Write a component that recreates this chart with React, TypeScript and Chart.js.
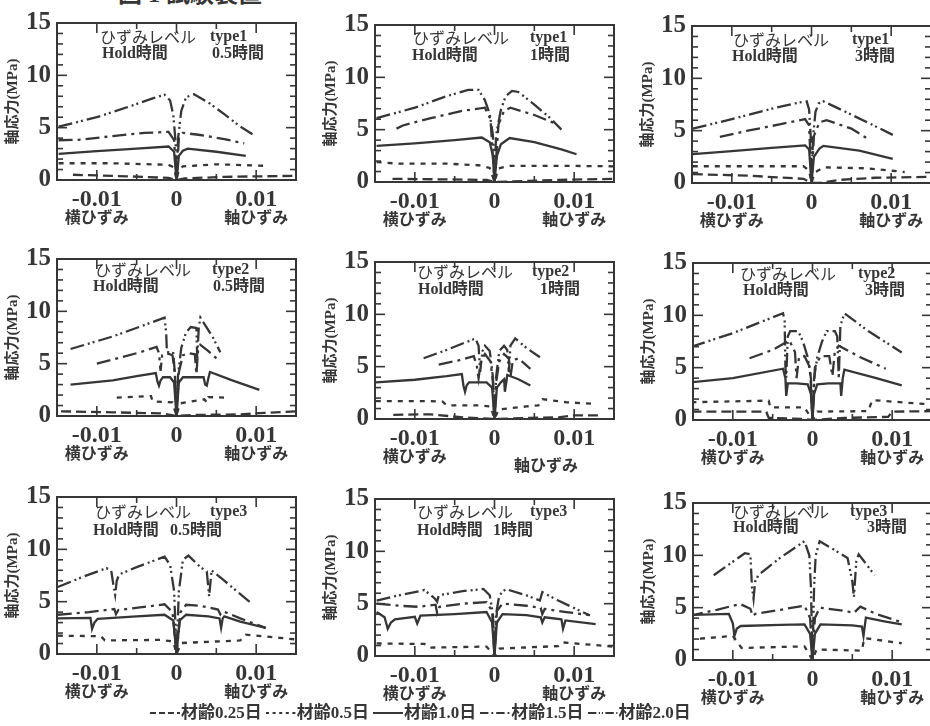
import React, { useEffect, useRef } from "react";
import { Chart, registerables } from "chart.js";

Chart.register(...registerables);

// ---------- labels ----------
const figureTitle = "図 1 試験装置";
const ages = ["材齢0.25日", "材齢0.5日", "材齢1.0日", "材齢1.5日", "材齢2.0日"];
const levelLabel = "ひずみレベル";
const holdLabel = "Hold時間";
const yTitle = "軸応力(MPa)";
const lateralLabel = "横ひずみ";
const axialLabel = "軸ひずみ";
const xTicks = [-0.01, 0, 0.01];
const xTickLabels = ["-0.01", "0", "0.01"];
const yTicks = [0, 5, 10, 15];
const yTickLabels = ["0", "5", "10", "15"];
const xMinor = [-0.015, -0.005, 0.005, 0.015];
const yMinor = [1, 2, 3, 4, 6, 7, 8, 9, 11, 12, 13, 14];
const levelTypes = ["type1", "type1", "type1", "type2", "type2", "type2", "type3", "type3", "type3"];
const holdTimes = ["0.5時間", "1時間", "3時間", "0.5時間", "1時間", "3時間", "0.5時間", "1時間", "3時間"];

// ---------- data: [strain, stress MPa] (negative strain = lateral, positive = axial) ----------
// type1, 0.5h
const p1_a025 = [[-0.013, 0.5], [-0.006, 0.35], [-0.001, 0.2], [0, 0], [0.001, 0.15], [0.006, 0.3], [0.015, 0.4]];
const p1_a050 = [[-0.0148, 1.6], [-0.008, 1.6], [-0.001, 1.45], [-0.0003, 1.2], [0, 0], [0.0003, 1.0], [0.0008, 1.3], [0.005, 1.5], [0.0114, 1.35]];
const p1_a100 = [[-0.0148, 2.5], [-0.01, 2.75], [-0.005, 3.0], [-0.001, 3.2], [-0.0003, 2.7], [0, 0], [0.0003, 2.3], [0.0008, 2.8], [0.0014, 3.0], [0.005, 2.7], [0.0087, 2.3]];
const p1_a150 = [[-0.0148, 3.8], [-0.012, 3.85], [-0.008, 4.2], [-0.004, 4.5], [-0.001, 4.6], [-0.0003, 3.8], [0, 0], [0.0003, 4.0], [0.0008, 4.5], [0.003, 4.3], [0.006, 3.9], [0.0085, 3.5]];
const p1_a200 = [[-0.0148, 5.1], [-0.01, 6.0], [-0.006, 7.0], [-0.003, 7.8], [-0.0015, 8.15], [-0.0008, 7.6], [-0.0004, 6.2], [-0.0001, 3.5], [0, 0], [0.0002, 4.0], [0.0006, 6.6], [0.0012, 7.9], [0.0022, 8.2], [0.004, 7.4], [0.006, 6.3], [0.008, 5.1], [0.0097, 4.3]];
// type1, 1h
const p2_a025 = [[-0.0128, 0.3], [-0.006, 0.25], [-0.001, 0.2], [0, 0], [0.002, 0.05], [0.008, 0.2], [0.0151, 0.3]];
const p2_a050 = [[-0.0148, 1.9], [-0.012, 1.75], [-0.006, 1.75], [-0.002, 1.6], [-0.0006, 1.35], [0, 0], [0.0005, 1.3], [0.002, 1.55], [0.008, 1.55], [0.0151, 1.5]];
const p2_a100 = [[-0.0148, 3.45], [-0.01, 3.7], [-0.005, 4.0], [-0.0016, 4.25], [-0.0006, 3.8], [-0.0002, 2.5], [0, 0], [0.0003, 2.5], [0.0008, 3.6], [0.0019, 4.2], [0.005, 3.8], [0.0085, 3.1], [0.0103, 2.65]];
const p2_a150 = [[-0.0123, 5.1], [-0.0115, 5.4], [-0.008, 6.1], [-0.004, 6.8], [-0.0012, 7.1], [-0.0005, 6.0], [0, 0], [0.0005, 5.5], [0.0012, 6.8], [0.002, 7.1], [0.005, 6.4], [0.0076, 5.6]];
const p2_a200 = [[-0.0148, 6.1], [-0.01, 7.1], [-0.006, 8.2], [-0.0033, 8.8], [-0.002, 8.8], [-0.0012, 7.8], [-0.0006, 6.5], [-0.0002, 4.5], [0, 0], [0.0002, 4.5], [0.0008, 6.9], [0.0014, 8.2], [0.0022, 8.7], [0.003, 8.6], [0.005, 7.4], [0.007, 6.1], [0.0084, 5.0]];
// type1, 3h
const p3_a025 = [[-0.0149, 0.85], [-0.008, 0.7], [-0.001, 0.4], [0, 0], [0.001, 0], [0.0035, 0.3], [0.008, 0.5], [0.0155, 0.6]];
const p3_a050 = [[-0.0149, 1.6], [-0.008, 1.6], [-0.001, 1.6], [-0.0003, 1.2], [0, 0], [0.0004, 1.0], [0.0015, 1.5], [0.007, 1.4], [0.0117, 1.05]];
const p3_a100 = [[-0.0149, 2.75], [-0.01, 3.05], [-0.005, 3.35], [-0.0008, 3.6], [-0.0003, 3.2], [0, 0], [0.0003, 2.5], [0.001, 3.3], [0.0015, 3.55], [0.006, 3.1], [0.0102, 2.3]];
const p3_a150 = [[-0.0115, 4.4], [-0.008, 5.0], [-0.004, 5.6], [-0.0008, 6.1], [-0.0003, 5.5], [0, 0], [0.0003, 4.5], [0.001, 5.8], [0.0019, 6.0], [0.005, 5.2], [0.007, 4.25]];
const p3_a200 = [[-0.0149, 5.2], [-0.01, 6.1], [-0.005, 7.1], [-0.0015, 7.7], [-0.0006, 7.8], [-0.0003, 7.0], [-0.0001, 4.5], [0, 0], [0.0002, 4.5], [0.0005, 6.8], [0.0009, 7.6], [0.0015, 7.8], [0.004, 6.9], [0.007, 5.8], [0.0102, 4.6]];
// type2, 0.5h
const p4_a025 = [[-0.0145, 0.45], [-0.008, 0.35], [-0.002, 0.25], [0, 0], [0.002, 0.1], [0.008, 0.15], [0.011, 0.3], [0.015, 0.45]];
const p4_a050 = [[-0.0075, 1.75], [-0.0032, 1.9], [-0.003, 1.4], [-0.0005, 1.3], [0, 0], [0.0004, 1.2], [0.0035, 1.6], [0.0038, 1.3], [0.004, 1.8], [0.0067, 1.75]];
const p4_a100 = [[-0.0133, 3.0], [-0.008, 3.4], [-0.005, 3.8], [-0.0026, 4.1], [-0.0024, 3.3], [-0.0022, 2.9], [-0.002, 3.4], [-0.0017, 3.7], [-0.0008, 3.7], [-0.0003, 3.2], [0, 0], [0.0003, 3.2], [0.0008, 3.7], [0.0034, 3.7], [0.0036, 3.0], [0.0038, 2.9], [0.004, 3.6], [0.0042, 4.2], [0.007, 3.4], [0.0104, 2.5]];
const p4_a150 = [[-0.01, 5.0], [-0.007, 5.6], [-0.0045, 6.1], [-0.0025, 6.6], [-0.0022, 6.0], [-0.002, 4.3], [-0.0018, 5.8], [-0.0012, 6.0], [-0.0005, 5.8], [-0.0002, 4.0], [0, 0], [0.0003, 4.2], [0.0008, 5.8], [0.0015, 6.0], [0.0023, 5.9], [0.0025, 4.0], [0.0027, 6.2], [0.003, 6.8], [0.004, 6.2], [0.0053, 5.3]];
const p4_a200 = [[-0.0133, 6.4], [-0.008, 7.6], [-0.004, 8.7], [-0.0015, 9.4], [-0.0013, 8.0], [-0.0012, 6.1], [-0.0008, 6.1], [-0.0004, 6.0], [-0.0002, 4.0], [0, 0], [0.0002, 4.0], [0.0006, 6.5], [0.0012, 8.0], [0.0018, 8.5], [0.0025, 8.4], [0.0026, 5.5], [0.0028, 8.5], [0.003, 9.4], [0.0045, 7.6], [0.0055, 6.1]];
// type2, 1h
const p5_a025 = [[-0.0127, 0.4], [-0.008, 0.45], [-0.004, 0.15], [0, 0], [0.004, 0.1], [0.008, 0.15], [0.01, 0.35], [0.0135, 0.35]];
const p5_a050 = [[-0.0149, 1.7], [-0.008, 1.7], [-0.0065, 1.65], [-0.006, 1.3], [-0.002, 1.3], [-0.0005, 1.2], [0, 0], [0.0005, 0.9], [0.004, 1.2], [0.0055, 1.3], [0.006, 1.9], [0.009, 1.6], [0.0124, 1.45]];
const p5_a100 = [[-0.0149, 3.5], [-0.01, 3.75], [-0.006, 4.1], [-0.0041, 4.3], [-0.0039, 3.2], [-0.0037, 2.6], [-0.0035, 3.2], [-0.0032, 3.5], [-0.001, 3.5], [-0.0003, 3.0], [0, 0], [0.0003, 3.0], [0.0008, 3.5], [0.0012, 3.8], [0.0013, 2.6], [0.0015, 3.6], [0.0016, 4.2], [0.003, 3.8], [0.0045, 3.2]];
const p5_a150 = [[-0.007, 5.2], [-0.0045, 5.6], [-0.0026, 6.0], [-0.0022, 5.0], [-0.002, 3.9], [-0.0017, 5.6], [-0.0012, 6.2], [-0.0005, 5.5], [-0.0002, 3.5], [0, 0], [0.0002, 3.5], [0.0006, 5.5], [0.0012, 6.2], [0.0018, 5.8], [0.002, 4.0], [0.0023, 5.6], [0.003, 5.8], [0.0045, 4.8]];
const p5_a200 = [[-0.0089, 5.8], [-0.006, 6.6], [-0.0024, 7.7], [-0.002, 7.0], [-0.0018, 4.5], [-0.0015, 6.5], [-0.0012, 7.0], [-0.0006, 6.5], [-0.0002, 4.0], [0, 0], [0.0002, 4.0], [0.0006, 6.5], [0.0012, 7.0], [0.0016, 6.6], [0.0018, 4.5], [0.002, 7.0], [0.0026, 7.7], [0.004, 6.8], [0.0057, 5.9]];
// type2, 3h
const p6_a025 = [[-0.0152, 0.8], [-0.0058, 0.8], [-0.0055, 0.2], [-0.001, 0.1], [0, 0], [0.004, 0.2], [0.0095, 0.3], [0.01, 0.8], [0.0155, 0.85]];
const p6_a050 = [[-0.0152, 1.7], [-0.0055, 1.85], [-0.0053, 1.2], [-0.001, 1.2], [0, 0], [0.0006, 0.8], [0.007, 0.85], [0.0075, 1.9], [0.0155, 1.45]];
const p6_a100 = [[-0.0152, 3.6], [-0.01, 4.0], [-0.0037, 4.9], [-0.0034, 4.0], [-0.0033, 2.3], [-0.0031, 3.5], [-0.002, 3.5], [-0.0006, 3.4], [-0.0002, 2.5], [0, 0], [0.0002, 2.5], [0.0006, 3.4], [0.002, 3.5], [0.0035, 3.5], [0.0036, 2.3], [0.0038, 4.0], [0.004, 4.8], [0.008, 4.0], [0.0112, 3.3]];
const p6_a150 = [[-0.0079, 5.9], [-0.005, 6.7], [-0.0029, 7.6], [-0.0022, 6.5], [-0.002, 4.0], [-0.0017, 6.0], [-0.001, 6.1], [-0.0003, 5.0], [0, 0], [0.0003, 5.0], [0.001, 6.1], [0.0021, 6.1], [0.0025, 4.2], [0.0028, 6.5], [0.0033, 7.1], [0.006, 6.0], [0.0092, 4.9]];
const p6_a200 = [[-0.0152, 7.0], [-0.01, 8.3], [-0.0037, 10.2], [-0.0035, 9.5], [-0.0034, 5.0], [-0.0033, 4.0], [-0.0031, 8.0], [-0.0028, 8.5], [-0.0018, 8.5], [-0.0012, 7.5], [-0.0006, 6.0], [-0.0002, 4.0], [0, 0], [0.0002, 4.0], [0.0006, 6.0], [0.0012, 7.5], [0.0018, 8.5], [0.0028, 8.5], [0.0031, 8.0], [0.0033, 4.0], [0.0035, 9.0], [0.004, 10.2], [0.007, 8.5], [0.0112, 6.45]];
// type3, 0.5h
const p7_a050 = [[-0.0149, 1.75], [-0.0095, 1.7], [-0.009, 1.3], [-0.002, 1.35], [-0.0004, 1.2], [0, 0], [0.0006, 1.05], [0.008, 1.3], [0.0087, 1.85], [0.0149, 1.4]];
const p7_a100 = [[-0.0149, 3.4], [-0.0108, 3.45], [-0.0106, 2.4], [-0.0103, 3.0], [-0.0099, 3.35], [-0.005, 3.6], [-0.0015, 3.75], [-0.0004, 3.2], [0, 0], [0.0004, 3.2], [0.0012, 3.75], [0.004, 3.6], [0.0054, 3.4], [0.0056, 2.5], [0.0058, 3.4], [0.006, 3.6], [0.008, 3.1], [0.0112, 2.5]];
const p7_a150 = [[-0.0149, 3.75], [-0.011, 4.0], [-0.0078, 4.3], [-0.0076, 3.8], [-0.0073, 4.2], [-0.003, 4.6], [-0.0015, 4.75], [-0.0005, 4.0], [0, 0], [0.0005, 4.0], [0.0012, 4.7], [0.003, 4.6], [0.0052, 4.25], [0.0055, 3.8], [0.0058, 4.1], [0.008, 3.4], [0.0112, 2.5]];
const p7_a200 = [[-0.0149, 6.4], [-0.012, 7.3], [-0.0088, 8.2], [-0.0082, 8.0], [-0.0079, 6.5], [-0.0077, 5.65], [-0.0075, 7.0], [-0.0072, 7.6], [-0.005, 8.3], [-0.0015, 9.3], [-0.0008, 8.5], [-0.0003, 6.0], [0, 0], [0.0003, 6.0], [0.0008, 9.0], [0.0015, 9.4], [0.003, 8.3], [0.0038, 7.9], [0.0041, 5.5], [0.0044, 8.0], [0.006, 7.0], [0.0094, 4.85]];
// type3, 1h
const p8_a050 = [[-0.0148, 1.2], [-0.0088, 1.15], [-0.0082, 0.8], [-0.001, 0.9], [0, 0], [0.0006, 0.7], [0.008, 0.95], [0.0085, 1.3], [0.0149, 0.9]];
const p8_a100 = [[-0.0148, 4.2], [-0.0138, 3.7], [-0.0134, 2.6], [-0.013, 3.2], [-0.0125, 3.5], [-0.01, 3.75], [-0.0097, 3.1], [-0.0093, 3.85], [-0.005, 4.0], [-0.001, 4.2], [-0.0003, 3.2], [0, 0], [0.0003, 3.2], [0.001, 4.0], [0.004, 3.9], [0.0058, 3.7], [0.006, 3.2], [0.0063, 3.7], [0.0084, 3.5], [0.0086, 2.6], [0.0089, 3.4], [0.0127, 3.05]];
const p8_a150 = [[-0.0148, 5.0], [-0.012, 4.8], [-0.0095, 4.7], [-0.0074, 4.9], [-0.0072, 4.1], [-0.0069, 4.7], [-0.004, 5.0], [-0.001, 5.15], [-0.0003, 4.3], [0, 0], [0.0003, 4.3], [0.001, 5.0], [0.004, 4.8], [0.0058, 4.6], [0.006, 4.0], [0.0063, 4.5], [0.009, 4.2], [0.012, 3.9]];
const p8_a200 = [[-0.0148, 5.3], [-0.012, 5.8], [-0.0088, 6.3], [-0.0075, 5.5], [-0.0072, 5.2], [-0.007, 5.8], [-0.004, 6.2], [-0.0014, 6.4], [-0.0006, 5.8], [-0.0002, 4.0], [0, 0], [0.0002, 4.0], [0.0006, 5.8], [0.0014, 6.4], [0.004, 5.8], [0.0057, 5.3], [0.006, 6.1], [0.008, 5.3], [0.0119, 3.9]];
// type3, 3h
const p9_a050 = [[-0.0155, 1.95], [-0.01, 2.3], [-0.0089, 1.15], [-0.001, 1.3], [0, 0], [0.0005, 1.0], [0.0062, 0.9], [0.0065, 2.1], [0.0112, 1.6]];
const p9_a100 = [[-0.0155, 4.3], [-0.0105, 4.4], [-0.01, 3.5], [-0.0098, 2.3], [-0.0095, 3.0], [-0.009, 3.25], [-0.004, 3.35], [-0.001, 3.4], [-0.0003, 2.5], [0, 0], [0.0003, 2.5], [0.001, 3.4], [0.005, 3.3], [0.0062, 3.2], [0.0064, 2.3], [0.0067, 4.05], [0.009, 3.7], [0.0112, 3.4]];
const p9_a150 = [[-0.0155, 4.2], [-0.012, 4.8], [-0.0091, 5.35], [-0.0078, 4.9], [-0.0075, 4.2], [-0.0072, 4.4], [-0.004, 4.8], [-0.001, 5.2], [-0.0003, 4.0], [0, 0], [0.0003, 4.0], [0.0009, 5.0], [0.004, 4.7], [0.0052, 4.5], [0.006, 5.1], [0.008, 4.4], [0.0112, 3.6]];
const p9_a200 = [[-0.0124, 8.1], [-0.0085, 10.2], [-0.0078, 10.1], [-0.0076, 7.0], [-0.0074, 5.85], [-0.0072, 7.5], [-0.0068, 8.1], [-0.004, 9.8], [-0.001, 11.35], [-0.0004, 10.0], [-0.0002, 7.0], [0, 0], [0.0002, 7.0], [0.0004, 10.0], [0.0009, 11.35], [0.003, 10.4], [0.0044, 9.75], [0.005, 7.5], [0.0052, 6.0], [0.0055, 9.5], [0.0058, 10.1], [0.0078, 8.1]];

const panelSeries = [
  [p1_a025, p1_a050, p1_a100, p1_a150, p1_a200],
  [p2_a025, p2_a050, p2_a100, p2_a150, p2_a200],
  [p3_a025, p3_a050, p3_a100, p3_a150, p3_a200],
  [p4_a025, p4_a050, p4_a100, p4_a150, p4_a200],
  [p5_a025, p5_a050, p5_a100, p5_a150, p5_a200],
  [p6_a025, p6_a050, p6_a100, p6_a150, p6_a200],
  [null, p7_a050, p7_a100, p7_a150, p7_a200],
  [null, p8_a050, p8_a100, p8_a150, p8_a200],
  [null, p9_a050, p9_a100, p9_a150, p9_a200],
];

// ---------- styling / layout ----------
const INK = "#363636";
const SERIF = "'Liberation Serif', 'Times New Roman', serif";
const MIXED = "'Liberation Serif', 'Noto Sans CJK JP', serif";
const JP = "'Noto Sans CJK JP', sans-serif";
const DASHES = [[10, 5], [5, 6], [], [14, 5, 3, 5], [14, 4, 2, 3, 2, 4]];

const AREA_W = 239;
const AREA_H = 157;
const AX_W = 57;
const PAD_T = 23;
const PAD_R = 22;
const AX_H = 62;
const CW = AX_W + AREA_W + PAD_R;
const CH = PAD_T + AREA_H + AX_H;

// plot-area left/top and in-plot text offsets
const panels = [
  { left: 57, top: 23, t: [43, 14, 153, 45, 31, 155] },
  { left: 375, top: 25, t: [38, 13, 155, 37, 31, 155] },
  { left: 692, top: 26, t: [41, 14, 160, 40, 31, 163] },
  { left: 57, top: 259, t: [38, 11, 155, 36, 28, 156] },
  { left: 375, top: 262, t: [42, 10, 157, 43, 28, 165], axial: [171, 46] },
  { left: 693, top: 263, t: [47, 11, 165, 50, 28, 172] },
  { left: 57, top: 497, t: [38, 15, 153, 36, 34, 113] },
  { left: 375, top: 499, t: [42, 13, 155, 42, 32, 118] },
  { left: 693, top: 503, t: [40, 9, 157, 40, 25, 174] },
];

const framePlugin = {
  id: "frameTicks",
  afterDraw(chart: any, _a: any, opts: any) {
    const { ctx, chartArea: a, scales } = chart;
    const sx = scales.x;
    const sy = scales.y;
    ctx.save();
    ctx.strokeStyle = INK;
    ctx.lineWidth = 2;
    ctx.strokeRect(a.left, a.top, a.right - a.left, a.bottom - a.top);
    ctx.lineWidth = 1.6;
    const seg = (x1: number, y1: number, x2: number, y2: number) => {
      ctx.beginPath();
      ctx.moveTo(x1, y1);
      ctx.lineTo(x2, y2);
      ctx.stroke();
    };
    [...yTicks.map((v) => [v, 10]), ...yMinor.map((v) => [v, 6])].forEach(([v, len]) => {
      const py = sy.getPixelForValue(v);
      seg(a.left, py, a.left + len, py);
      seg(a.right, py, a.right - len, py);
    });
    [...xTicks.map((v) => [v, 10]), ...xMinor.map((v) => [v, 6])].forEach(([v, len]) => {
      const px = sx.getPixelForValue(v);
      seg(px, a.bottom, px, a.bottom - len);
      seg(px, a.top, px, a.top + len);
    });
    // in-plot captions
    const t = opts.t;
    ctx.fillStyle = INK;
    ctx.textBaseline = "middle";
    ctx.textAlign = "left";
    ctx.font = `16px ${JP}`;
    ctx.fillText(levelLabel, a.left + t[0], a.top + t[1]);
    ctx.font = `bold 16px ${SERIF}`;
    ctx.fillText(opts.level, a.left + t[2], a.top + t[1]);
    ctx.font = `bold 16px ${MIXED}`;
    ctx.fillText(holdLabel, a.left + t[3], a.top + t[4]);
    ctx.fillText(opts.hold, a.left + t[5], a.top + t[4]);
    // strain direction labels
    ctx.font = `bold 16px ${JP}`;
    ctx.textAlign = "center";
    ctx.fillText(lateralLabel, sx.getPixelForValue(-0.01), a.bottom + 37);
    if (opts.axial) {
      ctx.fillText(axialLabel, a.left + opts.axial[0], a.bottom + opts.axial[1]);
    } else {
      ctx.fillText(axialLabel, sx.getPixelForValue(0.01), a.bottom + 37);
    }
    ctx.restore();
  },
};

function Panel({ idx }: { idx: number }) {
  const ref = useRef<HTMLCanvasElement>(null);
  const p = panels[idx];
  useEffect(() => {
    const datasets = panelSeries[idx]
      .map((s, i) =>
        s
          ? {
              label: ages[i],
              data: s.map(([x, y]) => ({ x, y })),
              borderColor: INK,
              borderWidth: 2.3,
              borderDash: DASHES[i],
              pointRadius: 0,
              showLine: true,
              fill: false,
              tension: 0,
            }
          : null
      )
      .filter(Boolean);
    const chart = new Chart(ref.current as HTMLCanvasElement, {
      type: "scatter",
      data: { datasets: datasets as any },
      options: {
        responsive: false,
        animation: false,
        devicePixelRatio: 1,
        layout: { padding: { top: PAD_T, right: PAD_R, left: 0, bottom: 0 } },
        plugins: {
          legend: { display: false },
          tooltip: { enabled: false },
          frameTicks: { t: p.t, level: levelTypes[idx], hold: holdTimes[idx], axial: (p as any).axial },
        } as any,
        scales: {
          x: {
            type: "linear",
            min: -0.015,
            max: 0.015,
            grid: { display: false, drawTicks: false },
            border: { display: false },
            afterBuildTicks: (s: any) => {
              s.ticks = xTicks.map((v) => ({ value: v }));
            },
            afterFit: (s: any) => {
              s.height = AX_H;
            },
            ticks: {
              padding: 5,
              maxRotation: 0,
              autoSkip: false,
              color: INK,
              font: { family: SERIF, size: 24, weight: "bold" },
              callback: (v: any) => xTickLabels[xTicks.indexOf(Number(v))] ?? "",
            },
          },
          y: {
            type: "linear",
            min: 0,
            max: 15,
            grid: { display: false, drawTicks: false },
            border: { display: false },
            afterBuildTicks: (s: any) => {
              s.ticks = yTicks.map((v) => ({ value: v }));
            },
            afterFit: (s: any) => {
              s.width = AX_W;
            },
            title: {
              display: true,
              text: yTitle,
              color: INK,
              font: { family: MIXED, size: 15, weight: "bold" },
              padding: { top: 4, bottom: 0 },
            },
            ticks: {
              padding: 6,
              color: INK,
              font: { family: SERIF, size: 25, weight: "bold" },
              callback: (v: any) => yTickLabels[yTicks.indexOf(Number(v))] ?? "",
            },
          },
        },
      },
      plugins: [framePlugin],
    });
    return () => chart.destroy();
  }, [idx]);
  return (
    <div style={{ position: "absolute", left: p.left - AX_W, top: p.top - PAD_T, width: CW, height: CH }}>
      <canvas ref={ref} width={CW} height={CH} style={{ width: CW, height: CH, display: "block" }} />
    </div>
  );
}

function LegendSample({ dash }: { dash: number[] }) {
  return (
    <svg width={30} height={10} style={{ display: "block" }}>
      <line x1={0} y1={5} x2={30} y2={5} stroke={INK} strokeWidth={2} strokeDasharray={dash.length ? dash.map((d) => d * 0.6).join(" ") : undefined} />
    </svg>
  );
}

export default function App() {
  return (
    <div style={{ position: "absolute", left: 0, top: 0, width: 930, height: 726, overflow: "hidden", background: "#fff" }}>
      <div style={{ position: "absolute", left: 118, top: -18, font: `bold 24px ${MIXED}`, lineHeight: "24px", color: INK, whiteSpace: "pre" }}>
        {figureTitle}
      </div>
      {panels.map((_, i) => (
        <Panel key={i} idx={i} />
      ))}
      <div style={{ position: "absolute", left: 150, top: 703, display: "flex", alignItems: "center", color: INK, font: `bold 17px ${MIXED}`, lineHeight: "20px", whiteSpace: "nowrap" }}>
        {ages.map((a, i) => (
          <div key={a} style={{ display: "flex", alignItems: "center", marginRight: 4 }}>
            <LegendSample dash={DASHES[i]} />
            <span style={{ marginLeft: 1 }}>{a}</span>
          </div>
        ))}
      </div>
    </div>
  );
}
